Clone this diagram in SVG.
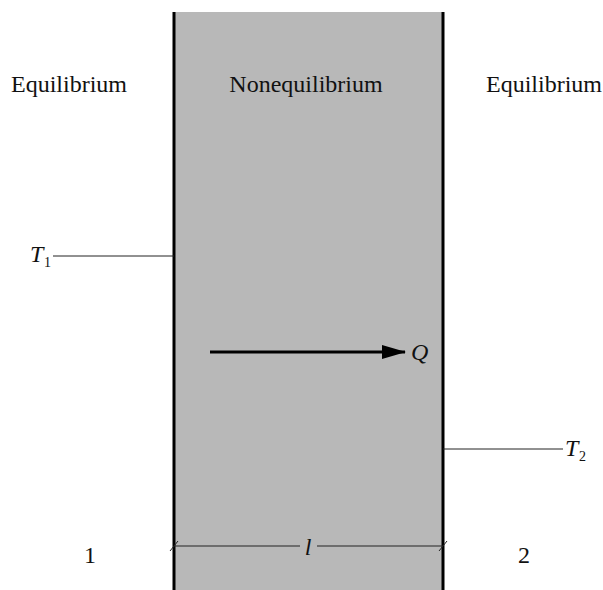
<svg xmlns="http://www.w3.org/2000/svg" width="603" height="590" viewBox="0 0 603 590">
<style>
.t{font-family:"Liberation Serif","Times New Roman",serif;font-size:24px;fill:#111}
.i{font-style:italic}
.s{font-family:"Liberation Serif","Times New Roman",serif;font-size:14px;fill:#111}
.thin{stroke:#222;stroke-width:1;fill:none}
.wall{stroke:#000;stroke-width:3;fill:none}
</style>
<defs>
<marker id="ah" markerWidth="24" markerHeight="16" refX="23" refY="8" orient="auto" markerUnits="userSpaceOnUse">
<path d="M0,1 L24,8 L0,15 Z" fill="#000"/>
</marker>
</defs>
<rect width="603" height="590" fill="#fff"/>
<g id="nonequilibrium-region">
<rect x="174" y="12" width="269" height="578" fill="#b8b8b8"/>
<text class="t" x="306" y="92" text-anchor="middle">Nonequilibrium</text>
</g>
<g id="walls">
<line class="wall" x1="174" y1="12" x2="174" y2="590"/>
<line class="wall" x1="443" y1="12" x2="443" y2="590"/>
</g>
<g id="equilibrium-1">
<text class="t" x="69" y="92" text-anchor="middle">Equilibrium</text>
<text class="t" x="90" y="563" text-anchor="middle">1</text>
</g>
<g id="equilibrium-2">
<text class="t" x="544" y="92" text-anchor="middle">Equilibrium</text>
<text class="t" x="524" y="563" text-anchor="middle">2</text>
</g>
<g id="T1">
<text class="t i" x="30" y="262">T</text>
<text class="s" x="44" y="267">1</text>
</g>
<g id="T2">
<text class="t i" x="565" y="456">T</text>
<text class="s" x="579" y="461">2</text>
</g>
<g id="Q">
<text class="t i" x="411" y="360">Q</text>
</g>
<g id="l">
<text class="t i" x="308" y="555" text-anchor="middle">l</text>
</g>
<g id="connectors">
<line class="thin" x1="53" y1="256" x2="174" y2="256"/>
<line class="thin" x1="443" y1="449" x2="563" y2="449"/>
<line x1="210" y1="352" x2="405" y2="352" stroke="#000" stroke-width="3" marker-end="url(#ah)"/>
<line class="thin" x1="174" y1="546" x2="300" y2="546"/>
<line class="thin" x1="317" y1="546" x2="443" y2="546"/>
<line class="thin" x1="170" y1="551" x2="178" y2="541"/>
<line class="thin" x1="439" y1="551" x2="447" y2="541"/>
</g>
</svg>
